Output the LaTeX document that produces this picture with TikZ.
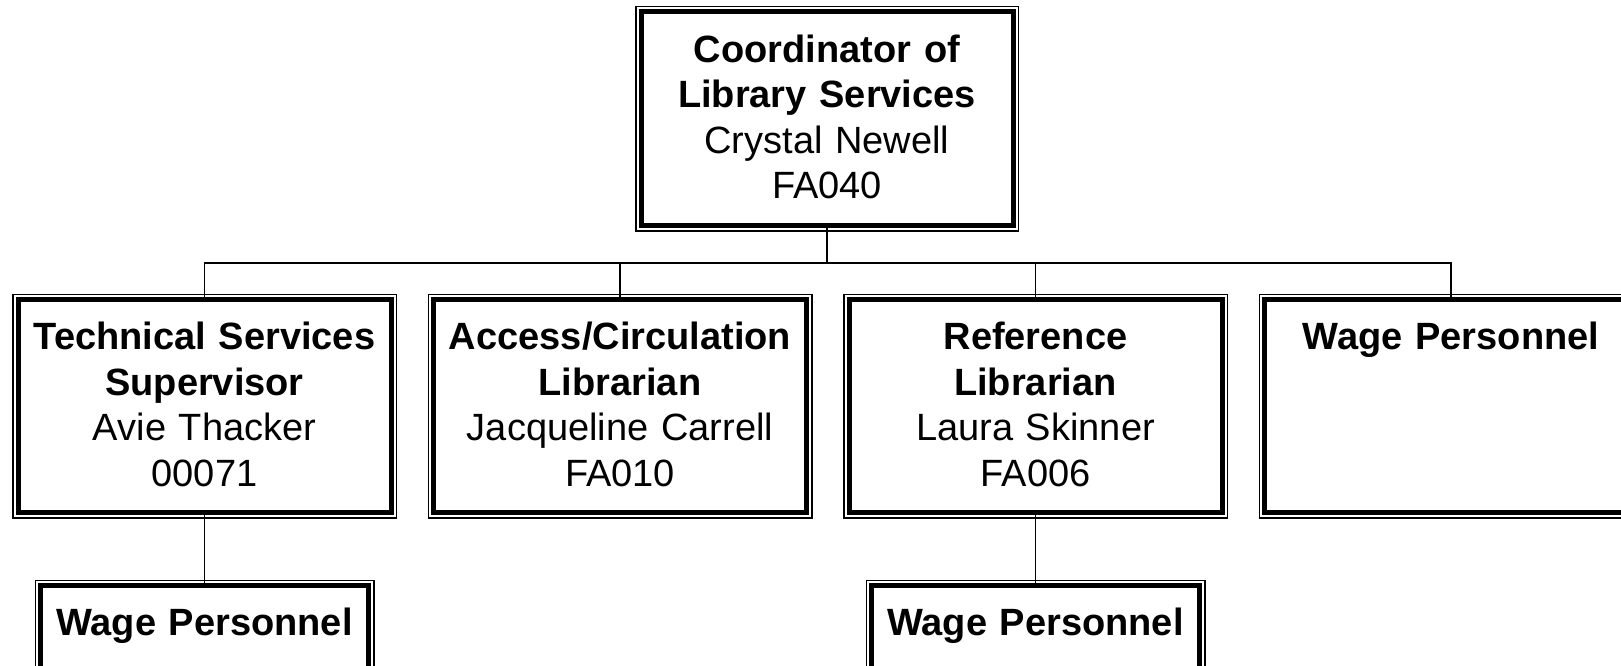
\documentclass[tikz,border=0pt]{standalone}
\usepackage{fontspec}
\setmainfont{Liberation Sans}
\usepackage{tikz}
\usetikzlibrary{positioning}
\tikzset{
  orgbox/.style={draw=black, line width=5pt, inner sep=0pt, align=center,
    text height=30pt, text depth=143.5pt, minimum height=213pt,
    text width=373pt, font=\fontsize{38}{45.5}\selectfont},
  frame/.style={draw=black, line width=1.5pt},
  link/.style={draw=black, line width=1.9pt}
}

\begin{document}
\begin{tikzpicture}[x=1pt, y=1pt]
        \clip (0,0) rectangle (1621,666);
        \useasboundingbox (0,0) rectangle (1621,666);

        \node[orgbox, text width=372pt, minimum height=214pt] (coord) at (827,547)
          {\textbf{Coordinator of}\\\textbf{Library Services}\\Crystal Newell\\FA040};
        \node[orgbox] (tech) at (204.5,259.5)
          {\textbf{Technical Services}\\\textbf{Supervisor}\\Avie Thacker\\00071};
        \node[orgbox, right=37.5pt of tech] (access)
          {\textbf{Access/Circulation}\\\textbf{Librarian}\\Jacqueline Carrell\\FA010};
        \node[orgbox, right=37.5pt of access] (refl)
          {\textbf{Reference}\\\textbf{Librarian}\\Laura Skinner\\FA006};
        \node[orgbox, right=37.5pt of refl] (wage) {\textbf{Wage Personnel}};

        \node[orgbox, text width=328pt, below=68pt of tech] (techwage) {\textbf{Wage Personnel}};
        \node[orgbox, text width=328pt, below=68pt of refl] (refwage) {\textbf{Wage Personnel}};

        \foreach \n in {coord,tech,access,refl,wage,techwage,refwage}
          \draw[frame] ([xshift=-2.75pt,yshift=2.75pt]\n.north west) rectangle ([xshift=2.75pt,yshift=-2.75pt]\n.south east);

        \coordinate (bus) at (coord.south |- 0,403);
        \draw[link] (coord.south) -- (bus);
        \foreach \n in {tech,access,refl,wage}
          \draw[link] (\n.north) |- (bus);
        \draw[link] (tech.south) -- (techwage.north);
        \draw[link] (refl.south) -- (refwage.north);
    \end{tikzpicture}
\end{document}
